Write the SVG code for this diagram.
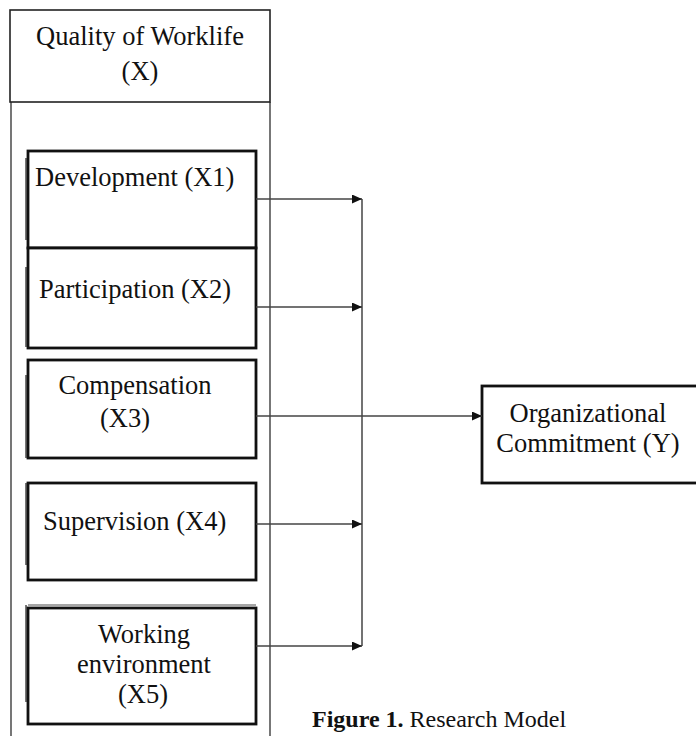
<svg xmlns="http://www.w3.org/2000/svg" width="696" height="736" viewBox="0 0 696 736">
<style>
text{font-family:"Liberation Serif","Times New Roman",serif;font-size:26.5px;fill:#111}
.box{fill:#fff;stroke:#111;stroke-width:2.8}
.frame{fill:none;stroke:#555;stroke-width:1.6}
.bar{stroke:#777;stroke-width:2}
.conn{fill:none;stroke:#444;stroke-width:1.5}
.cap{font-size:24px}
</style>
<defs>
<marker id="ah" markerUnits="userSpaceOnUse" markerWidth="11" markerHeight="9" refX="10" refY="4.5" orient="auto">
<path d="M0,0 L10,4.5 L0,9 Z" fill="#111"/>
</marker>
</defs>
<rect width="696" height="736" fill="#fff"/>
<g id="qwl">
<path class="frame" d="M11,102 V736 M270,102 V736"/>
<rect x="10" y="10" width="260" height="92" fill="#fff" stroke="#222" stroke-width="1.6"/>
<text x="140" y="45" text-anchor="middle">Quality of Worklife</text>
<text x="140" y="80" text-anchor="middle">(X)</text>
</g>
<g id="x1">
<line class="bar" x1="26" y1="158" x2="26" y2="240"/>
<rect class="box" x="28" y="151" width="228" height="97"/>
<text x="35" y="186">Development (X1)</text>
</g>
<g id="x2">
<line class="bar" x1="26" y1="267" x2="26" y2="347"/>
<rect class="box" x="28" y="248" width="228" height="100"/>
<text x="39" y="298">Participation (X2)</text>
</g>
<g id="x3">
<line class="bar" x1="26" y1="375" x2="26" y2="458"/>
<rect class="box" x="28" y="360" width="228" height="98"/>
<text x="135" y="394" text-anchor="middle">Compensation</text>
<text x="125" y="427" text-anchor="middle">(X3)</text>
</g>
<g id="x4">
<line class="bar" x1="26" y1="483" x2="26" y2="565"/>
<rect class="box" x="28" y="483" width="228" height="97"/>
<text x="43" y="530">Supervision (X4)</text>
</g>
<g id="x5">
<line class="bar" x1="26" y1="605" x2="26" y2="702"/>
<line x1="28" y1="605" x2="256" y2="605" stroke="#888" stroke-width="1.5"/>
<rect class="box" x="28" y="608" width="228" height="116"/>
<text x="144" y="643" text-anchor="middle">Working</text>
<text x="144" y="673" text-anchor="middle">environment</text>
<text x="143" y="703" text-anchor="middle">(X5)</text>
</g>
<g id="y">
<rect class="box" x="482" y="386" width="230" height="97"/>
<text x="588" y="422" text-anchor="middle">Organizational</text>
<text x="588" y="452" text-anchor="middle">Commitment (Y)</text>
</g>
<g id="connectors">
<line class="conn" x1="362" y1="199" x2="362" y2="646"/>
<line class="conn" x1="256" y1="199" x2="362" y2="199" marker-end="url(#ah)"/>
<line class="conn" x1="256" y1="307" x2="362" y2="307" marker-end="url(#ah)"/>
<line class="conn" x1="256" y1="416" x2="482" y2="416" marker-end="url(#ah)"/>
<line class="conn" x1="256" y1="524" x2="362" y2="524" marker-end="url(#ah)"/>
<line class="conn" x1="256" y1="646" x2="362" y2="646" marker-end="url(#ah)"/>
</g>
<g id="caption">
<text class="cap" x="312" y="727"><tspan font-weight="bold">Figure 1.</tspan> Research Model</text>
</g>
</svg>
